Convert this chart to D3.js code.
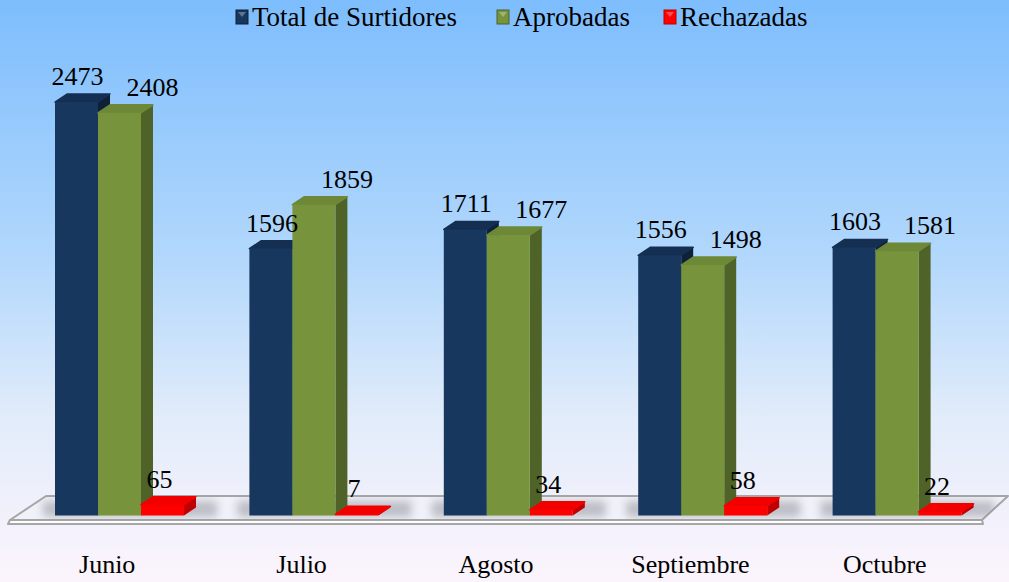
<!DOCTYPE html>
<html>
<head>
<meta charset="utf-8">
<script src="https://cdn.jsdelivr.net/npm/d3@7"></script>
</head>
<body style="margin:0">
<script>
var months = ["Junio", "Julio", "Agosto", "Septiembre", "Octubre"];
var seriesNames = ["Total de Surtidores", "Aprobadas", "Rechazadas"];
var totalSurtidores = [2473, 1596, 1711, 1556, 1603];
var aprobadas = [2408, 1859, 1677, 1498, 1581];
var rechazadas = [65, 7, 34, 58, 22];

var width = 1009, height = 582;
var base = 515.5;           // front bottom of the bars
var dx = 12, dy = -8;       // 3d depth offset
var fontFamily = "Liberation Serif";

var colors = [
  {front: "#17375e", top: "#142f52", side: "#0e2138"},
  {front: "#77933c", top: "#6d8837", side: "#4f6228"},
  {front: "#ff0000", top: "#f20000", side: "#c00000"}
];

var values = [totalSurtidores, aprobadas, rechazadas];

var svg = d3.select("body").append("svg")
  .attr("width", width)
  .attr("height", height)
  .style("display", "block");

var defs = svg.append("defs");

var bg = defs.append("linearGradient")
  .attr("id", "bg").attr("x1", 0).attr("y1", 0).attr("x2", 0).attr("y2", 1);
bg.append("stop").attr("offset", "0").attr("stop-color", "#7dbdfd");
bg.append("stop").attr("offset", "0.45").attr("stop-color", "#b3d8fc");
bg.append("stop").attr("offset", "0.72").attr("stop-color", "#e2ecfa");
bg.append("stop").attr("offset", "1").attr("stop-color", "#fcf4fc");

defs.append("filter").attr("id", "blur")
  .attr("x", "-50%").attr("y", "-50%").attr("width", "200%").attr("height", "200%")
  .append("feGaussianBlur").attr("stdDeviation", 4);

var floorPts = [[10, 520], [982, 520], [1008, 496], [46, 496]];
defs.append("clipPath").attr("id", "floorClip")
  .append("polygon").attr("points", floorPts.map(p => p.join(",")).join(" "));

svg.append("rect")
  .attr("width", width).attr("height", height)
  .attr("fill", "url(#bg)");

// scales
var x = d3.scaleBand()
  .domain(months)
  .range([10, 982])
  .padding(0);

var xs = d3.scaleBand()
  .domain(seriesNames)
  .range([45, 174])
  .padding(0);

var y = d3.scaleLinear()
  .domain([0, 2473])
  .range([base, 102]);

// floor
var floor = svg.append("g");
floor.append("polygon")
  .attr("points", "8,524 983,524 982,520 10,520")
  .attr("fill", "#ffffff")
  .attr("stroke", "#a6a6a6")
  .attr("stroke-width", 2)
  .attr("stroke-linejoin", "round");
floor.append("polygon")
  .attr("points", floorPts.map(p => p.join(",")).join(" "))
  .attr("fill", "#f1f1f9")
  .attr("stroke", "#a6a6a6")
  .attr("stroke-width", 2)
  .attr("stroke-linejoin", "round");

// shadows on the floor
floor.append("g")
  .attr("clip-path", "url(#floorClip)")
  .selectAll("rect")
  .data(months)
  .join("rect")
  .attr("x", d => x(d) + xs.range()[0] - 12)
  .attr("y", 501)
  .attr("width", xs.range()[1] - xs.range()[0] + 45)
  .attr("height", 16)
  .attr("fill", "#8a8a94")
  .attr("opacity", 0.5)
  .attr("filter", "url(#blur)");

// bars
var bars = svg.append("g");
months.forEach(function(m, i) {
  seriesNames.forEach(function(s, k) {
    var v = values[k][i];
    var x0 = x(m) + xs(s);
    var w = xs.bandwidth();
    var yt = y(v);
    var g = bars.append("g");
    g.append("polygon")
      .attr("points", [[x0 + w, yt], [x0 + w + dx, yt + dy], [x0 + w + dx, base + dy], [x0 + w, base]].map(p => p.join(",")).join(" "))
      .attr("fill", colors[k].side);
    g.append("polygon")
      .attr("points", [[x0, yt], [x0 + w, yt], [x0 + w + dx, yt + dy], [x0 + dx, yt + dy]].map(p => p.join(",")).join(" "))
      .attr("fill", colors[k].top)
      .attr("stroke", colors[k].top)
      .attr("stroke-width", 1.5)
      .attr("stroke-linejoin", "round");
    g.append("rect")
      .attr("x", x0)
      .attr("y", yt)
      .attr("width", w)
      .attr("height", base - yt)
      .attr("fill", colors[k].front);
  });
});

// value labels
var labelShift = [1, 33, -3];
var labels = svg.append("g");
months.forEach(function(m, i) {
  seriesNames.forEach(function(s, k) {
    var v = values[k][i];
    labels.append("text")
      .attr("x", x(m) + xs(s) + xs.bandwidth() / 2 + labelShift[k])
      .attr("y", y(v) + dy - 9)
      .attr("font-family", fontFamily)
      .attr("font-size", 26)
      .attr("text-anchor", "middle")
      .attr("fill", "#000")
      .text(v);
  });
});

// category labels
svg.append("g")
  .selectAll("text")
  .data(months)
  .join("text")
  .attr("x", d => x(d) + x.bandwidth() / 2)
  .attr("y", 573)
  .attr("font-family", fontFamily)
  .attr("font-size", 26)
  .attr("text-anchor", "middle")
  .text(d => d);

// legend
var legendX = [236, 497, 664];
var legend = svg.append("g");
seriesNames.forEach(function(s, k) {
  var lg = legend.append("g").attr("transform", "translate(" + legendX[k] + ",10)");
  lg.append("rect")
    .attr("width", 12).attr("height", 14)
    .attr("fill", colors[k].front)
    .attr("stroke", colors[k].side)
    .attr("stroke-width", 1);
  lg.append("polygon")
    .attr("points", "2,2 10,2 6,7")
    .attr("fill", "#ffffff")
    .attr("opacity", 0.3);
  lg.append("text")
    .attr("x", 16)
    .attr("y", 16)
    .attr("font-family", fontFamily)
    .attr("font-size", 27)
    .text(s);
});
</script>
</body>
</html>
